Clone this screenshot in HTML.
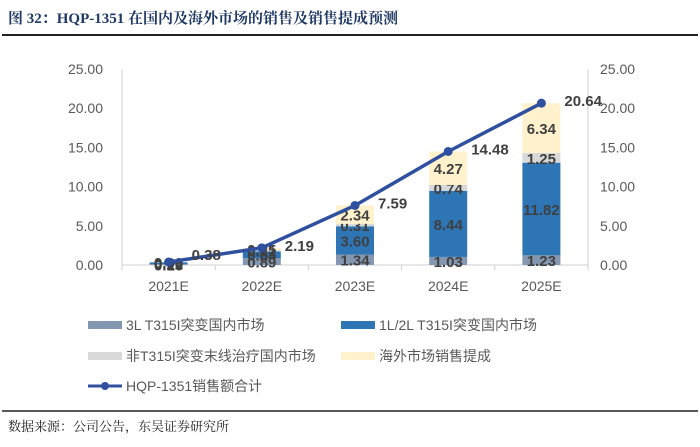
<!DOCTYPE html>
<html><head><meta charset="utf-8"><style>
body{margin:0;background:#fff;width:700px;height:442px;overflow:hidden;font-family:"Liberation Sans","Noto Sans CJK SC",sans-serif}
</style></head><body>
<svg width="700" height="442" viewBox="0 0 700 442" xmlns="http://www.w3.org/2000/svg">
<text x="8" y="23" font-family="'Liberation Serif','Noto Serif CJK SC',serif" font-weight="bold" font-size="15" fill="#1f3864">图 32：HQP-1351 在国内及海外市场的销售及销售提成预测</text>
<line x1="2" y1="35" x2="698" y2="35" stroke="#222" stroke-width="2"/>
<g id="plot"></g>
<g id="legend"></g>
<line x1="2" y1="411" x2="698" y2="411" stroke="#222" stroke-width="1.5"/>
<text x="8" y="431" font-family="'Liberation Serif','Noto Serif CJK SC',serif" font-size="13" fill="#222">数据来源：公司公告，东吴证券研究所</text>
</svg>
<script>
const categories=["2021E","2022E","2023E","2024E","2025E"];
const s3L=[0.10,0.89,1.34,1.03,1.23];
const s1L2L=[0.22,0.84,3.60,8.44,11.82];
const sNon=[0.06,0.21,0.31,0.74,1.25];
const sOverseas=[0,0.25,2.34,4.27,6.34];
const totals=[0.38,2.19,7.59,14.48,20.64];
const ticks=[0,5,10,15,20,25];
const NS="http://www.w3.org/2000/svg";
const plot=document.getElementById('plot'),legend=document.getElementById('legend');
function mk(p,tag,a,t){const e=document.createElementNS(NS,tag);for(const k in a)e.setAttribute(k,a[k]);if(t!==undefined)e.textContent=t;p.appendChild(e);return e;}
const x0=122,x1=588,yZero=265,yTop=69;
const y=v=>yZero-(v/25)*(yZero-yTop);
const bw=(x1-x0)/categories.length;
const xc=i=>x0+bw*(i+0.5);
let e;
e=mk(plot,'line',{x1:x0,y1:y(0),x2:x0,y2:y(25),stroke:'#d0d0d0'});


e=mk(plot,'line',{x1:x1,y1:y(0),x2:x1,y2:y(25),stroke:'#d0d0d0'});


e=mk(plot,'line',{x1:x0,y1:y(0),x2:x1,y2:y(0),stroke:'#d0d0d0'});


ticks.forEach(t=>{
 e=mk(plot,'text',{x:103,y:y(t)+5,'text-anchor':'end','font-size':14,fill:'#595959'},t.toFixed(2));
 
 
 e=mk(plot,'text',{x:600,y:y(t)+5,'font-size':14,fill:'#595959'},t.toFixed(2));
 
 
});
for(let i=0;i<=categories.length;i++){e=mk(plot,'line',{x1:x0+bw*i,y1:y(0),x2:x0+bw*i,y2:y(0)+5,stroke:'#d0d0d0'});
 
 }
const series=[[s3L,'#8497b0','3l-bar'],[s1L2L,'#2e75b6','1l2l-bar'],[sNon,'#d9d9d9','non-t315i-bar'],[sOverseas,'#fff2cc','overseas-bar']];
categories.forEach((c,i)=>{
 e=mk(plot,'text',{x:xc(i),y:y(0)+26,'text-anchor':'middle','font-size':14,fill:'#595959'},c);
 
 
 let base=0;
 series.forEach(([arr,col,nm])=>{
  const v=arr[i];
  e=mk(plot,'rect',{x:xc(i)-19,y:y(base+v),width:38,height:y(base)-y(base+v),fill:col});
  
  
  e=mk(plot,'text',{x:xc(i),y:(y(base)+y(base+v))/2+6,'text-anchor':'middle','font-size':15,'font-weight':'bold',fill:'#404040'},v.toFixed(2));
  
  
  base+=v;
 });
});
e=mk(plot,'polyline',{points:totals.map((v,i)=>xc(i)+','+y(v)).join(' '),fill:'none',stroke:'#2f4f9f','stroke-width':3.5});


totals.forEach((v,i)=>{
 e=mk(plot,'circle',{cx:xc(i),cy:y(v),r:4.5,fill:'#2f4f9f'});
 
 
 e=mk(plot,'text',{x:xc(i)+23,y:y(v)+ (i===0?-2:3),'font-size':15,'font-weight':'bold',fill:'#404040'},v.toFixed(2));
 
 
});
const leg=[['3L T315I突变国内市场','#8497b0',88,325,'rect'],['1L/2L T315I突变国内市场','#2e75b6',341,325,'rect'],['非T315I突变末线治疗国内市场','#d9d9d9',88,356,'rect'],['海外市场销售提成','#fff2cc',341,356,'rect'],['HQP-1351销售额合计','#2f4f9f',88,386,'line']];
leg.forEach(([t,c,lx,ly,k])=>{
 if(k==='rect'){e=mk(legend,'rect',{x:lx,y:ly-4,width:34,height:8,fill:c});}
 else{e=mk(legend,'g',{});mk(e,'line',{x1:lx,y1:ly,x2:lx+34,y2:ly,stroke:c,'stroke-width':3});mk(e,'circle',{cx:lx+17,cy:ly,r:4,fill:c});}
 
 
 e=mk(legend,'text',{x:lx+38,y:ly+5,'font-size':14,fill:'#595959'},t);
 
 
});
</script>
</body></html>
